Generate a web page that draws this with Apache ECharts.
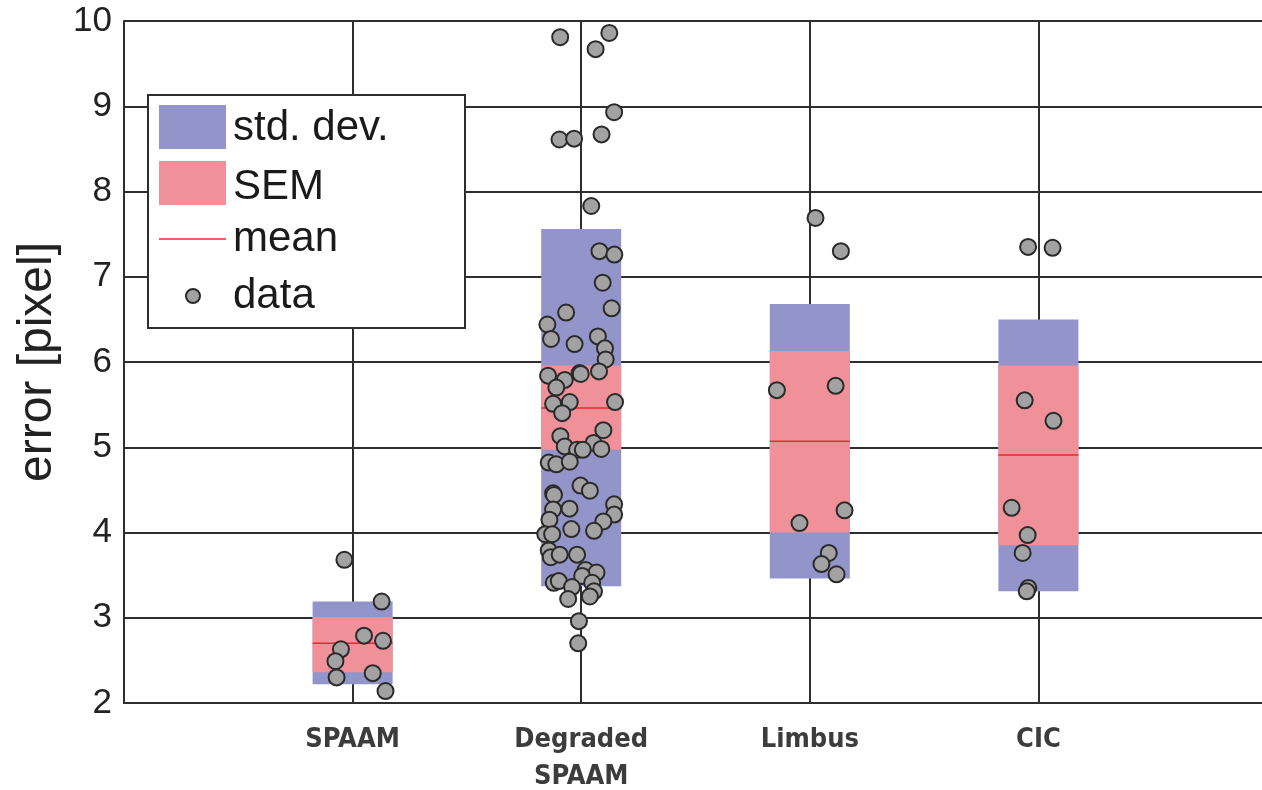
<!DOCTYPE html>
<html>
<head>
<meta charset="utf-8">
<script src="https://cdn.jsdelivr.net/npm/echarts@6/dist/echarts.min.js"></script>
<style>html,body{margin:0;padding:0;background:#fff}#c{width:1262px;height:790px}</style>
</head>
<body>
<div id="c"></div>
<script>
// ---- data ----
const categories = ['SPAAM', 'Degraded\nSPAAM', 'Limbus', 'CIC'];
const stdLow  = [2.22, 3.37, 3.46, 3.31];
const stdHigh = [3.19, 7.56, 6.68, 6.50];
const semLow  = [2.36, 4.97, 4.00, 3.85];
const semHigh = [3.01, 5.96, 6.13, 5.96];
const means   = [2.70, 5.46, 5.07, 4.91];

const spaamValues = [3.68, 3.19, 2.79, 2.73, 2.63, 2.49, 2.30, 2.35, 2.14];
const spaamJitter = [-0.036, 0.127, 0.050, 0.133, -0.051, -0.075, -0.070, 0.088, 0.144];

const degradedValues = [
  9.81, 9.86, 9.67, 8.93, 8.67, 8.61, 8.62, 7.83,
  7.30, 7.26, 6.93, 6.63, 6.58, 6.44, 6.27, 6.21, 6.30, 6.16, 6.03, 5.89, 5.87, 5.86, 5.84, 5.79,
  5.70, 5.53, 5.53, 5.51, 5.40, 5.20, 5.13, 5.01, 5.05, 4.97, 4.97, 4.98,
  4.82, 4.80, 4.83, 4.55, 4.49, 4.46, 4.44, 4.28, 4.27, 4.33, 4.21, 4.13, 4.02, 4.15, 4.04,
  3.98, 3.98, 3.79, 3.71, 3.74, 3.74, 3.56, 3.53, 3.49, 3.41, 3.31, 3.25, 3.41, 3.43, 3.36, 3.22,
  2.96, 2.70
];
const degradedJitter = [
  -0.092, 0.123, 0.063, 0.144, 0.089, -0.095, -0.031, 0.044,
  0.080, 0.145, 0.094, 0.133, -0.066, -0.148, -0.132, -0.029, 0.073, 0.104, 0.107, 0.078, -0.007, -0.002, -0.145, -0.072,
  -0.109, 0.148, -0.050, -0.123, -0.083, 0.097, -0.091, -0.072, 0.054, -0.018, 0.007, 0.088,
  -0.142, -0.109, -0.050, -0.003, 0.038, -0.123, -0.119, -0.051, -0.123, 0.144, 0.144, 0.097, 0.056, -0.139, -0.043,
  -0.157, -0.127, -0.142, -0.133, -0.094, -0.018, 0.019, 0.067, 0.004, 0.048, 0.056, 0.038, -0.120, -0.098, -0.040, -0.057,
  -0.010, -0.013
];

const limbusValues = [7.69, 7.30, 5.67, 5.72, 4.26, 4.11, 3.76, 3.63, 3.51];
const limbusJitter = [0.025, 0.136, -0.144, 0.113, 0.152, -0.045, 0.083, 0.051, 0.117];

const cicValues = [7.35, 7.34, 5.55, 5.31, 4.29, 3.97, 3.76, 3.35, 3.31];
const cicJitter = [-0.045, 0.062, -0.060, 0.066, -0.117, -0.047, -0.069, -0.044, -0.051];

const legendLabels = ['std. dev.', 'SEM', 'mean', 'data'];

// ---- styling ----
const STD_COLOR = '#9394c9';
const SEM_COLOR = '#f09199';
const MEAN_COLOR = '#e8282f';
const GRID_COLOR = '#2e2e2e';
const HALF_W = 0.175;

const groups = [
  [spaamValues, spaamJitter],
  [degradedValues, degradedJitter],
  [limbusValues, limbusJitter],
  [cicValues, cicJitter]
];
const scatterData = [];
groups.forEach(function (g, i) {
  g[0].forEach(function (v, j) { scatterData.push([i + 1 + g[1][j], v]); });
});

function rectRender(color) {
  return function (params, api) {
    const x = api.value(0);
    const p1 = api.coord([x - HALF_W, api.value(2)]);
    const p2 = api.coord([x + HALF_W, api.value(1)]);
    return { type: 'rect', shape: { x: p1[0], y: p1[1], width: p2[0] - p1[0], height: p2[1] - p1[1] },
             style: { fill: color } };
  };
}

const chart = echarts.init(document.getElementById('c'), null, { renderer: 'canvas' });
chart.setOption({
  animation: false,
  backgroundColor: '#fff',
  grid: { left: 124, right: -5, top: 21, bottom: 87, containLabel: false, outerBoundsMode: 'none' },
  xAxis: {
    type: 'value', min: 0, max: 5, interval: 1,
    axisLine: { show: true, lineStyle: { color: GRID_COLOR, width: 2 } },
    axisTick: { show: false },
    splitLine: { show: true, lineStyle: { color: GRID_COLOR, width: 2 } },
    axisLabel: {
      margin: 18,
      formatter: function (v) { return categories[v - 1] || ''; },
      fontFamily: 'DejaVu Sans Condensed', fontWeight: 'bold', fontSize: 27,
      color: '#3c3c3c', lineHeight: 37, verticalAlign: 'top'
    }
  },
  yAxis: {
    type: 'value', min: 2, max: 10, interval: 1,
    name: 'error [pixel]', nameLocation: 'middle', nameRotate: 90, nameGap: 62,
    nameTextStyle: { fontFamily: 'Liberation Sans', fontSize: 48, color: '#222' },
    axisLine: { show: true, lineStyle: { color: GRID_COLOR, width: 2 } },
    axisTick: { show: false },
    splitLine: { show: true, lineStyle: { color: GRID_COLOR, width: 2 } },
    axisLabel: { margin: 12, fontFamily: 'Liberation Sans', fontSize: 35, color: '#222' }
  },
  series: [
    { type: 'custom', name: 'std. dev.', renderItem: rectRender(STD_COLOR),
      data: categories.map(function (c, i) { return [i + 1, stdLow[i], stdHigh[i]]; }), z: 3 },
    { type: 'custom', name: 'SEM', renderItem: rectRender(SEM_COLOR),
      data: categories.map(function (c, i) { return [i + 1, semLow[i], semHigh[i]]; }), z: 4 },
    { type: 'custom', name: 'mean', z: 5,
      renderItem: function (params, api) {
        const x = api.value(0);
        const p1 = api.coord([x - HALF_W, api.value(1)]);
        const p2 = api.coord([x + HALF_W, api.value(1)]);
        return { type: 'line', shape: { x1: p1[0], y1: p1[1], x2: p2[0], y2: p2[1] },
                 style: { stroke: MEAN_COLOR, lineWidth: 1.5 } };
      },
      data: categories.map(function (c, i) { return [i + 1, means[i]]; }) },
    { type: 'scatter', name: 'data', z: 6, symbol: 'circle', symbolSize: 16,
      itemStyle: { color: '#a2a2a2', borderColor: '#2a2a2a', borderWidth: 2, opacity: 1 },
      data: scatterData }
  ],
  graphic: [
    { type: 'rect', left: 147, top: 94, z: 100, shape: { width: 317, height: 233 },
      style: { fill: '#fff', stroke: GRID_COLOR, lineWidth: 2 } },
    { type: 'rect', left: 159, top: 105, z: 101, shape: { width: 67, height: 44 }, style: { fill: STD_COLOR } },
    { type: 'rect', left: 159, top: 161, z: 101, shape: { width: 67, height: 44 }, style: { fill: SEM_COLOR } },
    { type: 'line', z: 101, shape: { x1: 159, y1: 239, x2: 226, y2: 239 }, style: { stroke: MEAN_COLOR, lineWidth: 1.5 } },
    { type: 'circle', z: 101, shape: { cx: 193, cy: 296, r: 7 }, style: { fill: '#a2a2a2', stroke: '#2a2a2a', lineWidth: 2 } },
    { type: 'text', z: 101, x: 233, y: 128, style: { text: legendLabels[0], font: '42px "Liberation Sans"', fill: '#1a1a1a', verticalAlign: 'middle' } },
    { type: 'text', z: 101, x: 233, y: 187, style: { text: legendLabels[1], font: '42px "Liberation Sans"', fill: '#1a1a1a', verticalAlign: 'middle' } },
    { type: 'text', z: 101, x: 233, y: 239, style: { text: legendLabels[2], font: '42px "Liberation Sans"', fill: '#1a1a1a', verticalAlign: 'middle' } },
    { type: 'text', z: 101, x: 233, y: 296, style: { text: legendLabels[3], font: '42px "Liberation Sans"', fill: '#1a1a1a', verticalAlign: 'middle' } }
  ]
});
</script>
</body>
</html>
